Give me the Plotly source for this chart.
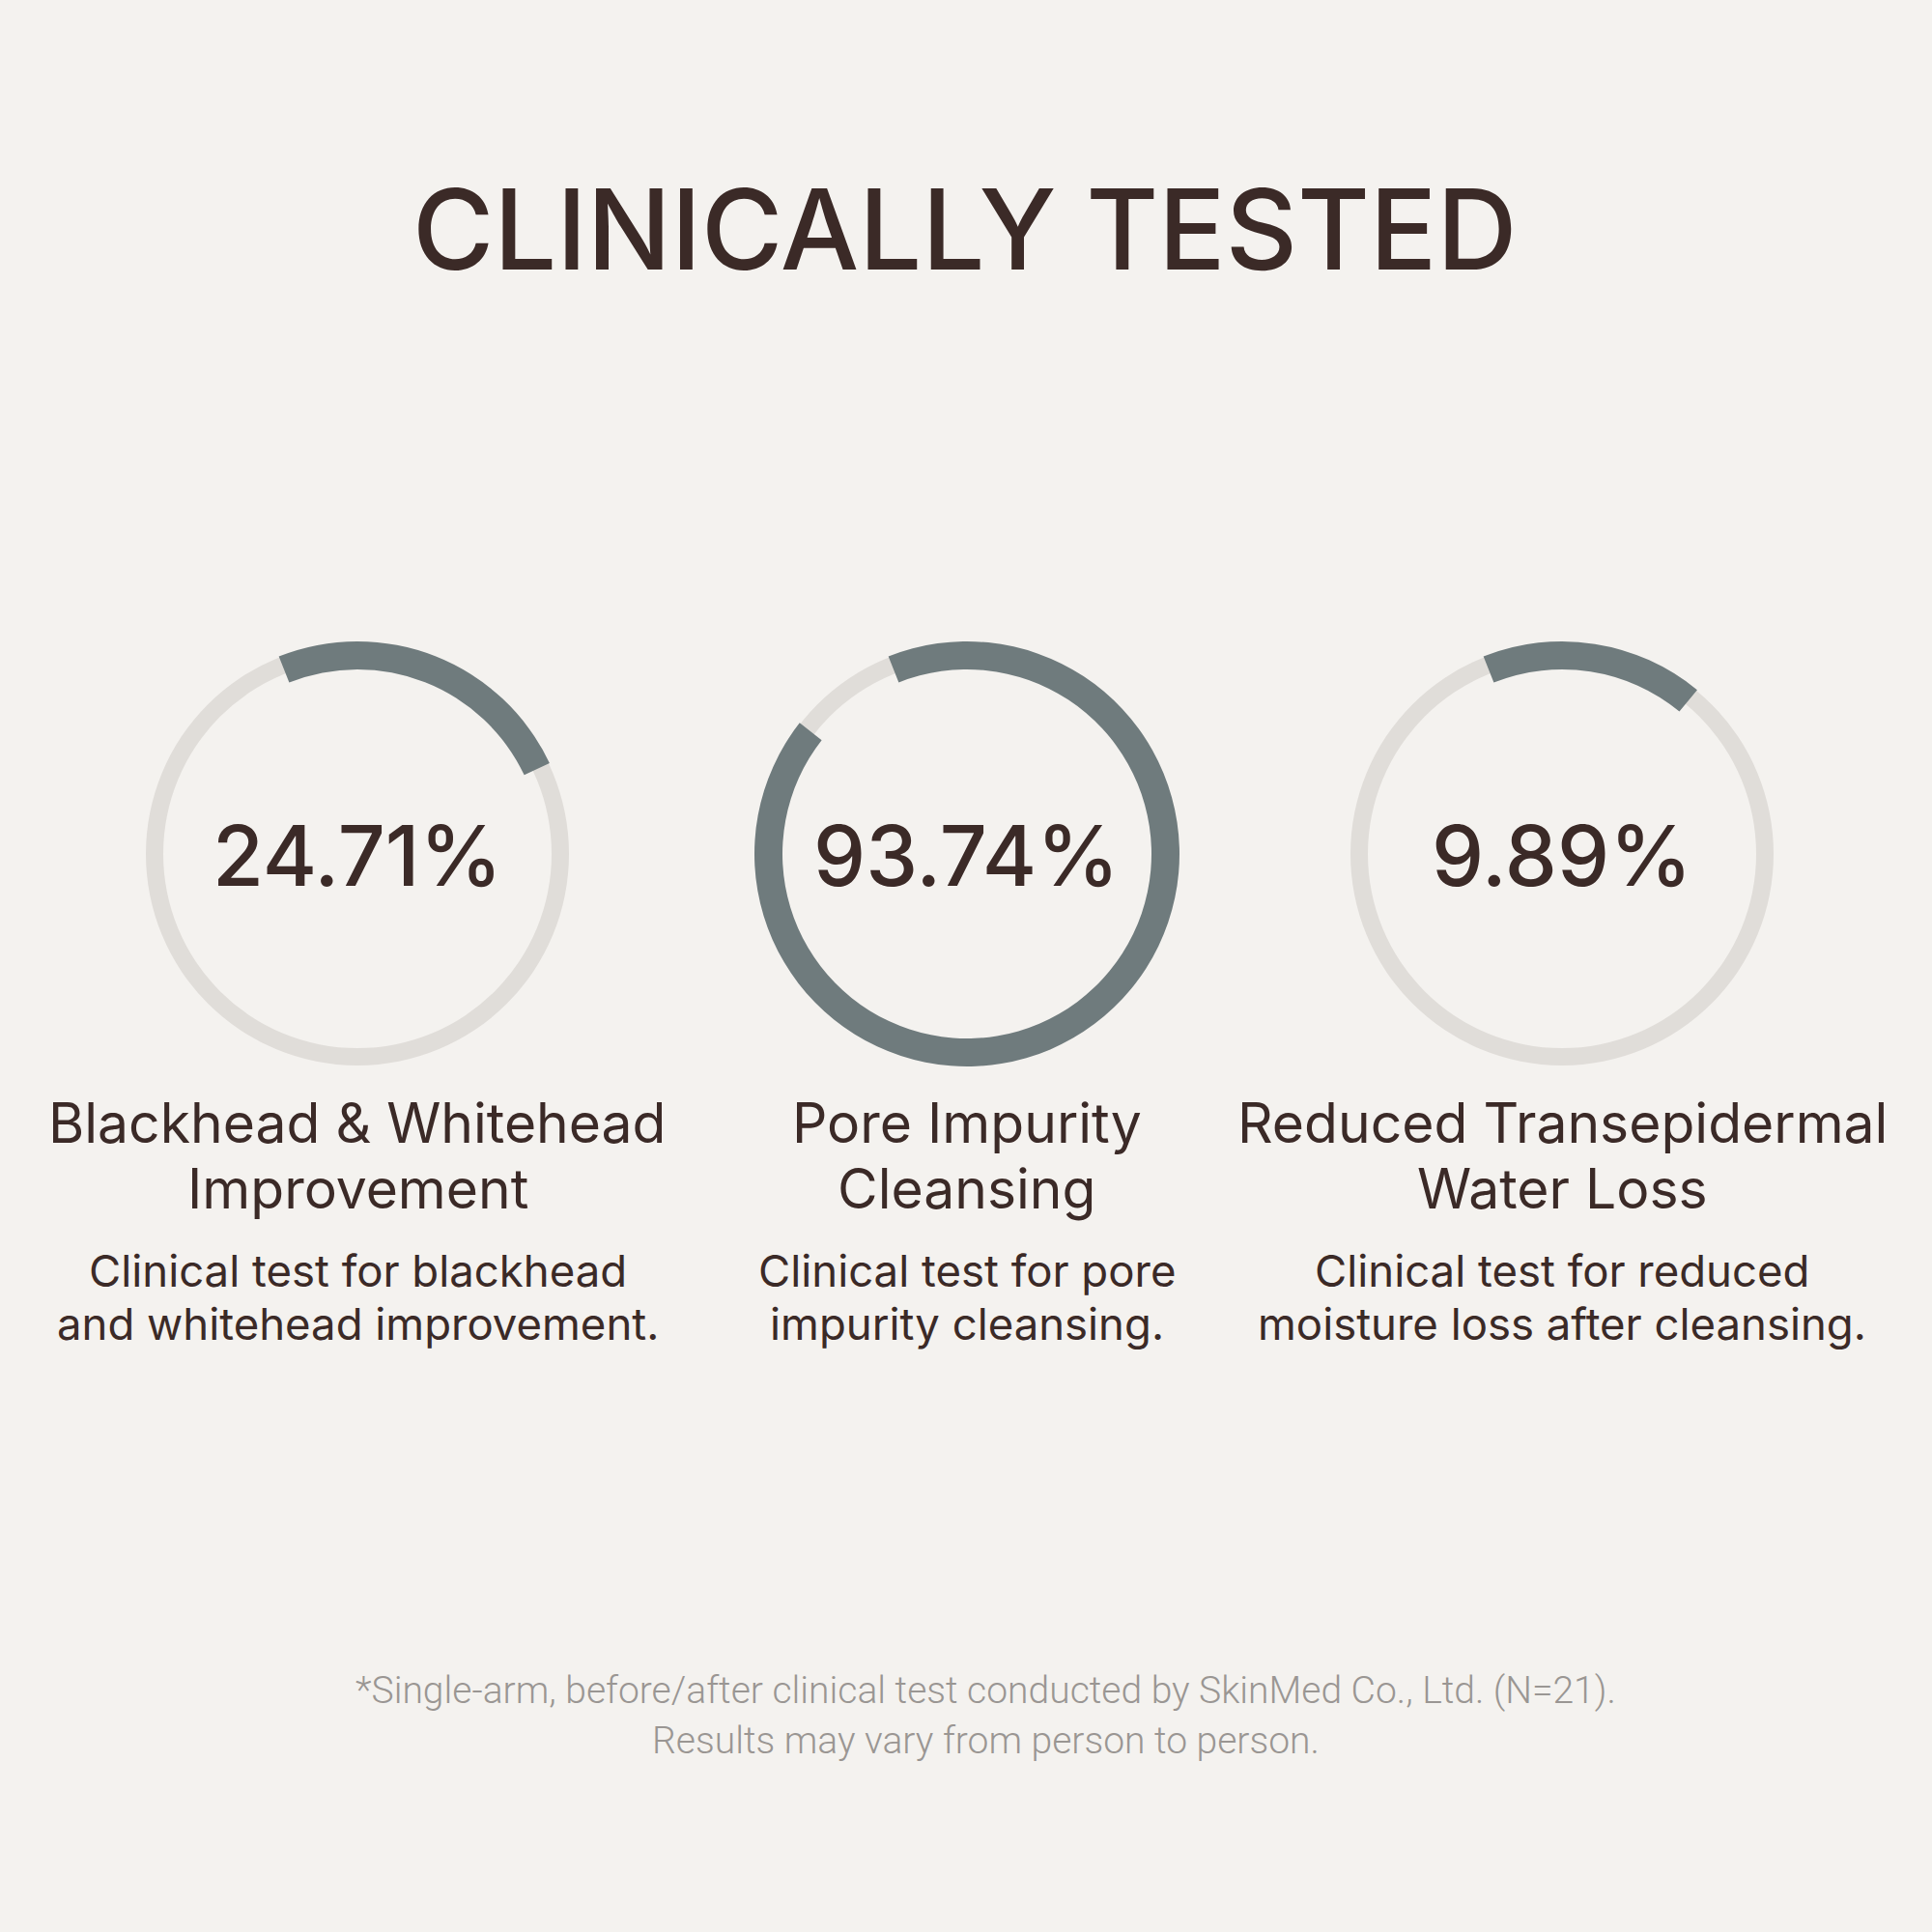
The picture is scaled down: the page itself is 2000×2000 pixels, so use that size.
import plotly.graph_objects as go

# data
results = [24.71, 93.74, 9.89]
ring_fill = [0.24, 0.916, 0.17]   # share of the ring drawn dark (as shown)
labels = [["Blackhead & Whitehead", "Improvement"],
          ["Pore Impurity", "Cleansing"],
          ["Reduced Transepidermal", "Water Loss"]]
notes = [["Clinical test for blackhead", "and whitehead improvement."],
         ["Clinical test for pore", "impurity cleansing."],
         ["Clinical test for reduced", "moisture loss after cleansing."]]
footnote = ["*Single-arm, before/after clinical test conducted by SkinMed Co., Ltd. (N=21).",
            "Results may vary from person to person."]

W = H = 2000
BG = "#F4F2EF"
DARK = "#3B2A27"
FILL = "#6F7B7D"
TRACK = "#E0DDD9"
GREY = "#9A9693"

cx = [370, 1001, 1617]
cy = 884
start = -21.7


def dom(x, y, r):
    return dict(x=[(x - r) / W, (x + r) / W], y=[1 - (y + r) / H, 1 - (y - r) / H])


fig = go.Figure()
for i in range(3):
    # light track
    fig.add_trace(go.Pie(values=[1], domain=dom(cx[i], cy, 219), hole=201 / 219,
                         marker=dict(colors=[TRACK], line=dict(width=0)),
                         textinfo="none", hoverinfo="skip", sort=False,
                         showlegend=False))
    # dark arc
    fig.add_trace(go.Pie(values=[ring_fill[i], 1 - ring_fill[i]],
                         domain=dom(cx[i], cy, 220), hole=191 / 220,
                         marker=dict(colors=[FILL, "rgba(0,0,0,0)"], line=dict(width=0)),
                         rotation=start, direction="clockwise", sort=False,
                         textinfo="none", hoverinfo="skip", showlegend=False))


def txt(x, y, s, size, color=DARK, family="Inter", weight=400):
    fig.add_annotation(x=x / W, y=1 - y / H, xref="paper", yref="paper",
                       text=s, showarrow=False, xanchor="center", yanchor="middle",
                       font=dict(family=family, size=size, color=color, weight=weight))


txt(998, 237, "CLINICALLY TESTED", 115, weight=450)

for i in range(3):
    txt(cx[i], 886, f"{results[i]:.2f}%", 86, weight=500)
    txt(cx[i], 1162, labels[i][0], 57)
    txt(cx[i], 1230, labels[i][1], 57)
    txt(cx[i], 1315, notes[i][0], 45.5)
    txt(cx[i], 1370, notes[i][1], 45.5)

txt(1021, 1750, footnote[0], 39, GREY, "Roboto", 300)
txt(1021, 1802, footnote[1], 39, GREY, "Roboto", 300)

fig.update_layout(width=W, height=H, margin=dict(l=0, r=0, t=0, b=0),
                  paper_bgcolor=BG, plot_bgcolor=BG, showlegend=False)

fig.write_html("out.html", config={"displayModeBar": False},
               post_script="document.body.style.margin='0';"
                           "document.body.style.background='%s';" % BG)
